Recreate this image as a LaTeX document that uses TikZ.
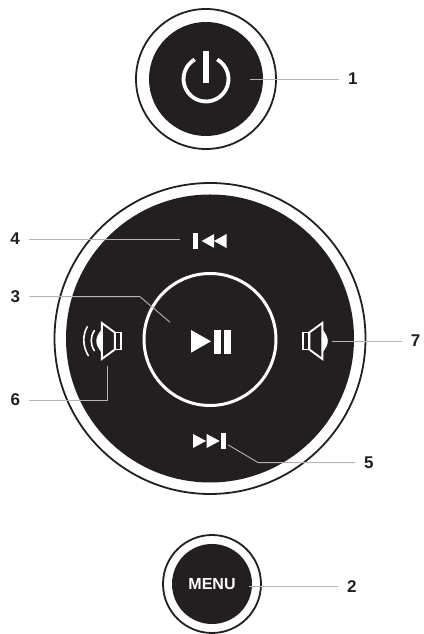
\documentclass[tikz,border=0pt]{standalone}
\usepackage{fontspec}
\setmainfont{Liberation Sans}
\usepackage{tikz}
\usetikzlibrary{calc}
\definecolor{ink}{HTML}{231F20}
\definecolor{leadgray}{HTML}{B4B4B4}

\begin{document}
\begin{tikzpicture}[
    x=1pt, y=1pt,
    ringbtn/.style={circle, draw=ink, fill=white, line width=1.8pt, inner sep=0pt},
    disc/.style={circle, fill=ink, inner sep=0pt},
    num/.style={font=\fontsize{17}{20}\selectfont\bfseries, text=ink, inner xsep=9pt, inner ysep=0pt},
    lead/.style={draw=leadgray, line width=0.9pt},
    icon/.style={fill=white, draw=none},
    spk/.pic={
      \draw[white, line width=1.9pt] (0,-8.5) rectangle (6,8.5);
      \draw[white, line width=1.9pt, line join=miter] (6,-8.5) -- (19,-18) -- (19,18) -- (6,8.5) -- cycle;
      \fill[white] (19.5,-11) .. controls (23,-7) and (24.5,-3) .. (24.5,0)
                   .. controls (24.5,3) and (23,7) .. (19.5,11) -- cycle;
    }
  ]
    \useasboundingbox (0,0) rectangle (423,634);
    % buttons
    \node[ringbtn, minimum size=140pt] (pwrring) at (206,555) {};
    \node[disc, minimum size=114pt] (pwr) at (206,555) {};
    \node[ringbtn, minimum size=311pt] (wheelring) at (210,295.5) {};
    \node[disc, minimum size=288pt] (wheel) at (210,295.5) {};
    \node[circle, draw=white, line width=3pt, inner sep=0pt, minimum size=132pt] (play) at (210,294.5) {};
    \node[ringbtn, minimum size=98pt] (menuring) at (212,50) {};
    \node[disc, minimum size=80pt, text=white, font=\fontsize{16}{19}\selectfont\bfseries] (menu) at (212,50) {MENU};

    % power symbol
    \draw[white, line width=3.8pt] ($(pwr.center)+(60:22.5)$) arc[start angle=60, end angle=-240, radius=22.5];
    \fill[icon] (203.4,551) rectangle (208.6,583);

    % previous
    \fill[icon] (193,385) rectangle (198,401);
    \foreach \tx in {201.7,214}
      \fill[icon] (\tx,393) -- (\tx+12.5,400) -- (\tx+12.5,386) -- cycle;
    % next
    \fill[icon] (221,185) rectangle (226,201);
    \foreach \tx in {193,206.7}
      \fill[icon] (\tx+13,193) -- (\tx,200) -- (\tx,186) -- cycle;
    % play / pause
    \fill[icon] (191,304) -- (211,292.7) -- (191,281.3) -- cycle;
    \fill[icon] (214,280.3) rectangle (221.3,304);
    \fill[icon] (223.5,280.3) rectangle (231,304);

    % speakers
    \pic at (303.3,293) {spk};
    \pic[xscale=-1] at (120.8,293) {spk};
    \draw[white, line width=1.6pt, line cap=round] (87.3,307.3) .. controls (82.5,299) and (82.5,288) .. (88.3,278.3);
    \draw[white, line width=1.6pt, line cap=round] (94.3,303.3) .. controls (90.2,297) and (90.2,290) .. (94.3,283.3);

    % labels
    \node[num, anchor=west] (n1) at (339,555) {1};
    \node[num, anchor=west] (n2) at (338,47.7) {2};
    \node[num, anchor=east] (n3) at (29.3,337.3) {3};
    \node[num, anchor=east] (n4) at (29,395) {4};
    \node[num, anchor=west] (n5) at (355,171.3) {5};
    \node[num, anchor=east] (n6) at (29.3,234) {6};
    \node[num, anchor=west] (n7) at (401.7,293) {7};

    % leader lines
    \coordinate (c1) at (250,555);
    \coordinate (c2) at (249,47.7);
    \coordinate (c3a) at (140,337.3);
    \coordinate (c3b) at (170,311.7);
    \coordinate (c4) at (180,395);
    \coordinate (c5a) at (258.3,171.3);
    \coordinate (c5b) at (228.3,189);
    \coordinate (c6a) at (107.3,234);
    \coordinate (c6b) at (107.3,268.3);
    \coordinate (c7) at (332.3,293);
    \draw[lead] (n1.west) -- (c1);
    \draw[lead] (n2.west) -- (c2);
    \draw[lead] (n3.east) -- (c3a) -- (c3b);
    \draw[lead] (n4.east) -- (c4);
    \draw[lead] (n5.west) -- (c5a) -- (c5b);
    \draw[lead] (n6.east) -- (c6a) -- (c6b);
    \draw[lead] (n7.west) -- (c7);
  \end{tikzpicture}
\end{document}
